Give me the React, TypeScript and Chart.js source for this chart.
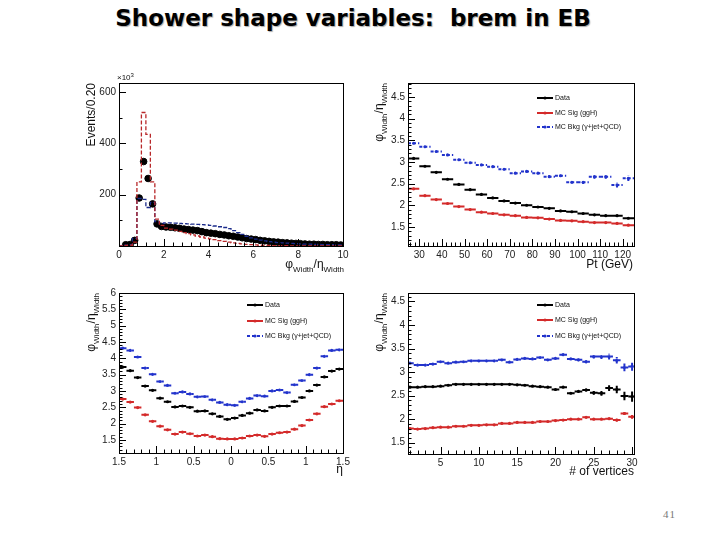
import React, { useEffect, useRef } from "react";
import { Chart, registerables } from "chart.js";
Chart.register(...registerables);

const FONT = "'Liberation Sans', Arial, sans-serif";

// ---------- Panel 1: phiWidth/etaWidth distribution (bins of 0.2 from 0 to 10)
const histBinEdgeStart = 0;
const histBinWidth = 0.2;
const histData = [null, 5, 6, 22, 187, 329, 263, 164, 86, 76,
  74, 73, 71, 69, 66, 64, 62, 60, 56, 52,
  50, 48, 45, 43, 40, 38, 35, 32, 29, 27,
  25, 22, 20, 18, 16, 15, 13, 12, 11, 10,
  9, 8, 7, 7, 6, 6, 5, 5, 5, 4];
const histSig = [0, 2, 3, 15, 250, 520, 435, 250, 105, 80,
  70, 66, 62, 57, 52, 48, 43, 39, 35, 31,
  28, 25, 21, 18, 15, 12, 10, 8, 6, 5,
  4, 3, 2, 2, 1, 1, 1, 1, 0, 0,
  0, 0, 0, 0, 0, 0, 0, 0, 0, 0];
const histBkg = [0, 3, 5, 30, 185, 182, 150, 170, 95, 88,
  90, 90, 89, 88, 87, 86, 85, 84, 83, 82,
  80, 78, 75, 72, 68, 60, 52, 45, 38, 32,
  27, 23, 20, 17, 15, 13, 12, 11, 10, 9,
  8, 7, 7, 6, 6, 5, 5, 5, 4, 4];

// ---------- Panel 2: vs Pt
const ptCenters = [27.5, 32.5, 37.5, 42.5, 47.5, 52.5, 57.5, 62.5, 67.5, 72.5, 77.5, 82.5, 87.5, 92.5, 97.5, 102.5, 107.5, 112.5, 117.5, 122.5];
const ptData = [3.08, 2.9, 2.76, 2.6, 2.48, 2.36, 2.25, 2.17, 2.1, 2.05, 2.0, 1.96, 1.93, 1.87, 1.85, 1.81, 1.78, 1.76, 1.76, 1.7];
const ptSig = [2.38, 2.22, 2.13, 2.04, 1.97, 1.9, 1.84, 1.81, 1.78, 1.76, 1.72, 1.71, 1.68, 1.65, 1.64, 1.62, 1.6, 1.6, 1.58, 1.54];
const ptBkg = [3.43, 3.35, 3.24, 3.16, 3.05, 2.98, 2.93, 2.89, 2.83, 2.74, 2.78, 2.74, 2.66, 2.68, 2.53, 2.53, 2.66, 2.66, 2.47, 2.62];
const ptBkgErr = [0.01, 0.01, 0.01, 0.01, 0.01, 0.01, 0.01, 0.01, 0.01, 0.02, 0.02, 0.02, 0.03, 0.03, 0.03, 0.04, 0.05, 0.05, 0.06, 0.06];

// ---------- Panel 3: vs eta
const etaCenters = [-1.45, -1.35, -1.25, -1.15, -1.05, -0.95, -0.85, -0.75, -0.65, -0.55, -0.45, -0.35, -0.25, -0.15, -0.05,
  0.05, 0.15, 0.25, 0.35, 0.45, 0.55, 0.65, 0.75, 0.85, 0.95, 1.05, 1.15, 1.25, 1.35, 1.45];
const etaData = [3.73, 3.62, 3.41, 3.15, 3.02, 2.78, 2.67, 2.51, 2.54, 2.5, 2.38, 2.39, 2.3, 2.22, 2.13, 2.17, 2.25, 2.32, 2.42, 2.39, 2.5, 2.54, 2.54, 2.68, 2.8, 3.0, 3.18, 3.43, 3.61, 3.67];
const etaSig = [2.75, 2.66, 2.49, 2.27, 2.07, 1.92, 1.81, 1.68, 1.74, 1.69, 1.62, 1.65, 1.6, 1.54, 1.53, 1.53, 1.56, 1.62, 1.65, 1.61, 1.68, 1.72, 1.74, 1.83, 1.94, 2.11, 2.3, 2.52, 2.6, 2.7];
const etaBkg = [4.31, 4.24, 4.04, 3.7, 3.51, 3.29, 3.17, 2.93, 2.97, 2.91, 2.82, 2.83, 2.73, 2.65, 2.58, 2.56, 2.67, 2.77, 2.86, 2.84, 3.0, 3.03, 2.95, 3.19, 3.32, 3.5, 3.7, 4.06, 4.24, 4.26];

// ---------- Panel 4: vs number of vertices
const nvtxCenters = [1, 2, 3, 4, 5, 6, 7, 8, 9, 10, 11, 12, 13, 14, 15, 16, 17, 18, 19, 20, 21, 22, 23, 24, 25, 26, 27, 28, 29, 30];
const nvtxData = [2.68, 2.68, 2.69, 2.69, 2.7, 2.72, 2.74, 2.74, 2.74, 2.74, 2.74, 2.74, 2.74, 2.74, 2.73, 2.72, 2.7, 2.69, 2.68, 2.63, 2.68, 2.55, 2.59, 2.62, 2.56, 2.55, 2.66, 2.63, 2.49, 2.48];
const nvtxSig = [1.8, 1.79, 1.8, 1.82, 1.83, 1.83, 1.85, 1.85, 1.87, 1.87, 1.88, 1.88, 1.91, 1.91, 1.93, 1.93, 1.93, 1.95, 1.95, 1.97, 1.98, 2.0, 2.0, 2.04, 2.0, 2.0, 2.01, 1.98, 2.12, 2.05];
const nvtxBkg = [3.19, 3.15, 3.15, 3.17, 3.22, 3.19, 3.21, 3.22, 3.24, 3.24, 3.24, 3.24, 3.26, 3.21, 3.27, 3.29, 3.28, 3.31, 3.26, 3.29, 3.37, 3.28, 3.26, 3.22, 3.33, 3.33, 3.33, 3.25, 3.1, 3.12];
const nvtxDataErr = [0, 0, 0, 0, 0, 0, 0, 0, 0, 0, 0, 0, 0, 0, 0, 0, 0, 0, 0, 0.01, 0.01, 0.02, 0.02, 0.03, 0.04, 0.05, 0.06, 0.08, 0.09, 0.11];
const nvtxSigErr = [0, 0, 0, 0, 0, 0, 0, 0, 0, 0, 0, 0, 0, 0, 0, 0, 0, 0, 0, 0, 0.01, 0.01, 0.01, 0.01, 0.02, 0.02, 0.02, 0.03, 0.03, 0.04];
const nvtxBkgErr = [0, 0, 0, 0, 0, 0, 0, 0, 0, 0, 0, 0, 0, 0, 0, 0, 0, 0, 0.01, 0.01, 0.02, 0.02, 0.03, 0.03, 0.04, 0.05, 0.06, 0.07, 0.08, 0.09];

const legendLabels = ["Data", "MC Sig (ggH)", "MC Bkg (\u03b3+jet+QCD)"];

const BLACK = "#000000";
const RED = "#d42a2a";
const BLUE = "#2233cc";
const HRED = "#b8282a";
const HBLUE = "#1a2a8a";

type Part = { t: string; sub?: boolean; sup?: boolean };

function drawRich(ctx: CanvasRenderingContext2D, parts: Part[], x: number, y: number, size: number, align: string, rotated: boolean) {
  ctx.save();
  ctx.translate(x, y);
  if (rotated) ctx.rotate(-Math.PI / 2);
  const fontFor = (p: Part) => `${p.sub || p.sup ? Math.round(size * 0.7) : size}px ${FONT}`;
  let W = 0;
  for (const p of parts) { ctx.font = fontFor(p); W += ctx.measureText(p.t).width; }
  let cx = align === "right" ? -W : 0;
  ctx.fillStyle = "#111";
  ctx.textBaseline = "alphabetic";
  ctx.textAlign = "left";
  for (const p of parts) {
    ctx.font = fontFor(p);
    const dy = p.sub ? size * 0.3 : p.sup ? -size * 0.4 : 0;
    ctx.fillText(p.t, cx, dy);
    cx += ctx.measureText(p.t).width;
  }
  ctx.restore();
}

function genTicks(min: number, max: number, step: number) {
  const out: number[] = [];
  const start = Math.ceil(min / step - 1e-9);
  for (let k = start; k * step <= max + 1e-9; k++) out.push(Math.round(k * step * 1e6) / 1e6);
  return out;
}

function segments(centers: number[], values: (number | null)[], half: number, errs?: number[]) {
  const pts: any[] = [];
  centers.forEach((c, i) => {
    const v = values[i];
    pts.push({ x: c - half, y: v });
    pts.push({ x: c, y: v, m: true });
    pts.push({ x: c + half, y: v });
    pts.push({ x: c + half, y: null });
    const e = errs ? errs[i] : 0;
    if (e && v !== null) {
      pts.push({ x: c, y: (v as number) - e });
      pts.push({ x: c, y: (v as number) + e });
      pts.push({ x: c, y: null });
    }
  });
  return pts;
}

function stepOutline(start: number, width: number, values: number[]) {
  const pts: any[] = [{ x: start, y: 0 }];
  values.forEach((v, i) => {
    pts.push({ x: start + i * width, y: v });
    pts.push({ x: start + (i + 1) * width, y: v });
  });
  return pts;
}

function errDataset(label: string, centers: number[], values: number[], half: number, color: string, dashed: boolean, errs?: number[]) {
  return {
    type: "line",
    label,
    data: segments(centers, values, half, errs),
    borderColor: color,
    backgroundColor: color,
    borderWidth: 2,
    borderDash: dashed ? [3, 2] : [],
    spanGaps: false,
    pointRadius: (c: any) => (c.raw && c.raw.m ? 1.6 : 0),
    pointHoverRadius: 0,
    pointBorderWidth: 0,
    fill: false,
  };
}

const rootPlugin = {
  id: "rootDecor",
  afterDatasetsDraw(chart: any, _a: any, o: any) {
    const { ctx, chartArea: a, scales } = chart;
    ctx.save();
    ctx.strokeStyle = "#000";
    ctx.lineWidth = 1;
    ctx.strokeRect(Math.round(a.left) + 0.5, Math.round(a.top) + 0.5, Math.round(a.width), Math.round(a.height));
    const xs = scales.x, ys = scales.y;
    const isMajor = (v: number, s: number) => Math.abs(v / s - Math.round(v / s)) < 1e-6;
    ctx.beginPath();
    for (const v of genTicks(xs.min, xs.max, o.xMinor)) {
      const px = Math.round(xs.getPixelForValue(v)) + 0.5;
      const len = isMajor(v, o.xMajor) ? 7 : 3.5;
      ctx.moveTo(px, a.bottom);
      ctx.lineTo(px, a.bottom - len);
    }
    for (const v of genTicks(ys.min, ys.max, o.yMinor)) {
      const py = Math.round(ys.getPixelForValue(v)) + 0.5;
      const len = isMajor(v, o.yMajor) ? 7 : 3.5;
      ctx.moveTo(a.left, py);
      ctx.lineTo(a.left + len, py);
    }
    ctx.stroke();
    ctx.restore();
    const ox = o.offX, oy = o.offY;
    for (const t of o.texts || []) {
      drawRich(ctx, t.parts, t.x - ox, t.y - oy, t.size, t.align, !!t.rotated);
    }
    if (o.legend) {
      const L = o.legend;
      L.items.forEach((it: any) => {
        const x0 = L.x - ox, y0 = it.y - oy;
        ctx.save();
        ctx.strokeStyle = it.color;
        ctx.fillStyle = it.color;
        ctx.lineWidth = 2;
        ctx.setLineDash(it.dash ? [3, 2] : []);
        ctx.beginPath();
        ctx.moveTo(x0, y0);
        ctx.lineTo(x0 + 16, y0);
        ctx.stroke();
        ctx.setLineDash([]);
        ctx.beginPath();
        ctx.arc(x0 + 8, y0, 1.6, 0, Math.PI * 2);
        ctx.fill();
        ctx.fillStyle = "#111";
        ctx.font = `7px ${FONT}`;
        ctx.textBaseline = "middle";
        ctx.textAlign = "left";
        ctx.fillText(it.label, x0 + 18, y0 + 0.5);
        ctx.restore();
      });
    }
  },
};

function axis(min: number, max: number, major: number, size: number, isX: boolean, fmt?: (v: number) => string) {
  return {
    type: "linear",
    min,
    max,
    grid: { display: false, drawTicks: false },
    border: { display: false },
    title: { display: false },
    ticks: {
      font: { family: FONT, size: 10 },
      color: "#222",
      padding: 3,
      maxRotation: 0,
      minRotation: 0,
      autoSkip: false,
      callback: (v: any) => (fmt ? fmt(Number(v)) : String(Math.round(Number(v) * 1000) / 1000)),
    },
    afterBuildTicks: (s: any) => {
      s.ticks = genTicks(min, max, major).map((v) => ({ value: v }));
    },
    afterFit: (s: any) => {
      if (isX) s.height = size;
      else s.width = size;
    },
  };
}

const phiEta: Part[] = [{ t: "\u03c6" }, { t: "Width", sub: true }, { t: "/\u03b7" }, { t: "Width", sub: true }];

function legendSpec(x: number, ys: number[]) {
  return {
    x,
    items: [
      { label: legendLabels[0], color: BLACK, dash: false, y: ys[0] },
      { label: legendLabels[1], color: RED, dash: false, y: ys[1] },
      { label: legendLabels[2], color: BLUE, dash: true, y: ys[2] },
    ],
  };
}

const panels: any[] = [
  {
    key: "p1", left: 82, top: 70, width: 280, height: 210,
    build: () => ({
      datasets: [
        { type: "line", label: "MC Sig", data: stepOutline(histBinEdgeStart, histBinWidth, histSig), borderColor: HRED, borderWidth: 1.3, borderDash: [4, 2], pointRadius: 0, fill: false },
        { type: "line", label: "MC Bkg", data: stepOutline(histBinEdgeStart, histBinWidth, histBkg), borderColor: HBLUE, borderWidth: 1.3, borderDash: [4, 2], pointRadius: 0, fill: false },
        { type: "scatter", label: "Data", data: histData.map((v, i) => ({ x: histBinEdgeStart + (i + 0.5) * histBinWidth, y: v })), backgroundColor: BLACK, borderColor: BLACK, pointRadius: 3.3 },
      ],
      pad: { top: 13, right: 19 },
      x: axis(0, 10, 2, 34, true),
      y: axis(0, 635, 200, 37, false, (v) => (v === 0 ? "" : String(v))),
      decor: {
        xMajor: 2, xMinor: 0.4, yMajor: 200, yMinor: 100,
        texts: [
          { parts: [{ t: "Events/0.20" }], x: 95, y: 83, size: 12, align: "right", rotated: true },
          { parts: phiEta, x: 344, y: 268, size: 12, align: "right" },
          { parts: [{ t: "\u00d710" }, { t: "3", sup: true }], x: 117, y: 80, size: 8, align: "left" },
        ],
      },
    }),
  },
  {
    key: "p2", left: 362, top: 70, width: 280, height: 210,
    build: () => ({
      datasets: [
        errDataset("Data", ptCenters, ptData, 2.5, BLACK, false),
        errDataset("MC Sig", ptCenters, ptSig, 2.5, RED, false),
        errDataset("MC Bkg", ptCenters, ptBkg, 2.5, BLUE, true, ptBkgErr),
      ],
      pad: { top: 13, right: 8 },
      x: axis(25, 125, 10, 34, true),
      y: axis(1.06, 4.82, 0.5, 46, false),
      decor: {
        xMajor: 10, xMinor: 2, yMajor: 0.5, yMinor: 0.1,
        texts: [
          { parts: phiEta, x: 383, y: 83, size: 12, align: "right", rotated: true },
          { parts: [{ t: "Pt (GeV)" }], x: 633, y: 268, size: 12, align: "right" },
        ],
        legend: legendSpec(537, [98, 113, 127]),
      },
    }),
  },
  {
    key: "p3", left: 82, top: 280, width: 280, height: 200,
    build: () => ({
      datasets: [
        errDataset("Data", etaCenters, etaData, 0.05, BLACK, false),
        errDataset("MC Sig", etaCenters, etaSig, 0.05, RED, false),
        errDataset("MC Bkg", etaCenters, etaBkg, 0.05, BLUE, true),
      ],
      pad: { top: 13, right: 19 },
      x: axis(-1.5, 1.5, 0.5, 27, true, (v) => String(Math.abs(Math.round(v * 100) / 100))),
      y: axis(1.1, 6, 0.5, 37, false),
      decor: {
        xMajor: 0.5, xMinor: 0.1, yMajor: 0.5, yMinor: 0.1,
        texts: [
          { parts: phiEta, x: 95, y: 293, size: 12, align: "right", rotated: true },
          { parts: [{ t: "\u03b7" }], x: 343, y: 473, size: 12, align: "right" },
        ],
        legend: legendSpec(247, [305, 321, 336]),
      },
    }),
  },
  {
    key: "p4", left: 362, top: 280, width: 280, height: 200,
    build: () => ({
      datasets: [
        errDataset("Data", nvtxCenters, nvtxData, 0.5, BLACK, false, nvtxDataErr),
        errDataset("MC Sig", nvtxCenters, nvtxSig, 0.5, RED, false, nvtxSigErr),
        errDataset("MC Bkg", nvtxCenters, nvtxBkg, 0.5, BLUE, true, nvtxBkgErr),
      ],
      pad: { top: 13, right: 8 },
      x: axis(0.75, 30.25, 5, 26, true),
      y: axis(1.26, 4.68, 0.5, 46, false),
      decor: {
        xMajor: 5, xMinor: 1, yMajor: 0.5, yMinor: 0.1,
        texts: [
          { parts: phiEta, x: 383, y: 293, size: 12, align: "right", rotated: true },
          { parts: [{ t: "# of vertices" }], x: 634, y: 475, size: 12, align: "right" },
        ],
        legend: legendSpec(537, [305, 320, 336]),
      },
    }),
  },
];

function Panel({ spec }: { spec: any }) {
  const ref = useRef<HTMLCanvasElement>(null);
  useEffect(() => {
    const b = spec.build();
    const chart = new Chart(ref.current as HTMLCanvasElement, {
      type: "line",
      data: { datasets: b.datasets },
      options: {
        responsive: false,
        animation: false,
        devicePixelRatio: 1,
        layout: { padding: { top: b.pad.top, right: b.pad.right, left: 0, bottom: 0 } },
        scales: { x: b.x, y: b.y },
        plugins: {
          legend: { display: false },
          tooltip: { enabled: false },
          rootDecor: { ...b.decor, offX: spec.left, offY: spec.top },
        },
      } as any,
      plugins: [rootPlugin],
    } as any);
    return () => chart.destroy();
  }, []);
  return (
    <div style={{ position: "absolute", left: spec.left, top: spec.top, width: spec.width, height: spec.height }}>
      <canvas ref={ref} width={spec.width} height={spec.height} style={{ width: spec.width, height: spec.height, display: "block" }} />
    </div>
  );
}

export default function App() {
  return (
    <div style={{ position: "absolute", left: 0, top: 0, width: 720, height: 540, background: "#fff", overflow: "hidden" }}>
      <div
        style={{
          position: "absolute", left: 0, top: 7, width: 706, textAlign: "center",
          font: "bold 23px 'DejaVu Sans', sans-serif", lineHeight: "23px", whiteSpace: "pre",
          textShadow: "1px 1px 1px #aaa", color: "#000",
        }}
      >
        {"Shower shape variables:  brem in EB"}
      </div>
      {panels.map((p) => (
        <Panel key={p.key} spec={p} />
      ))}
      <div style={{ position: "absolute", left: 663, top: 508, font: "11px 'Liberation Serif', serif", color: "#777", letterSpacing: "1px" }}>41</div>
    </div>
  );
}
